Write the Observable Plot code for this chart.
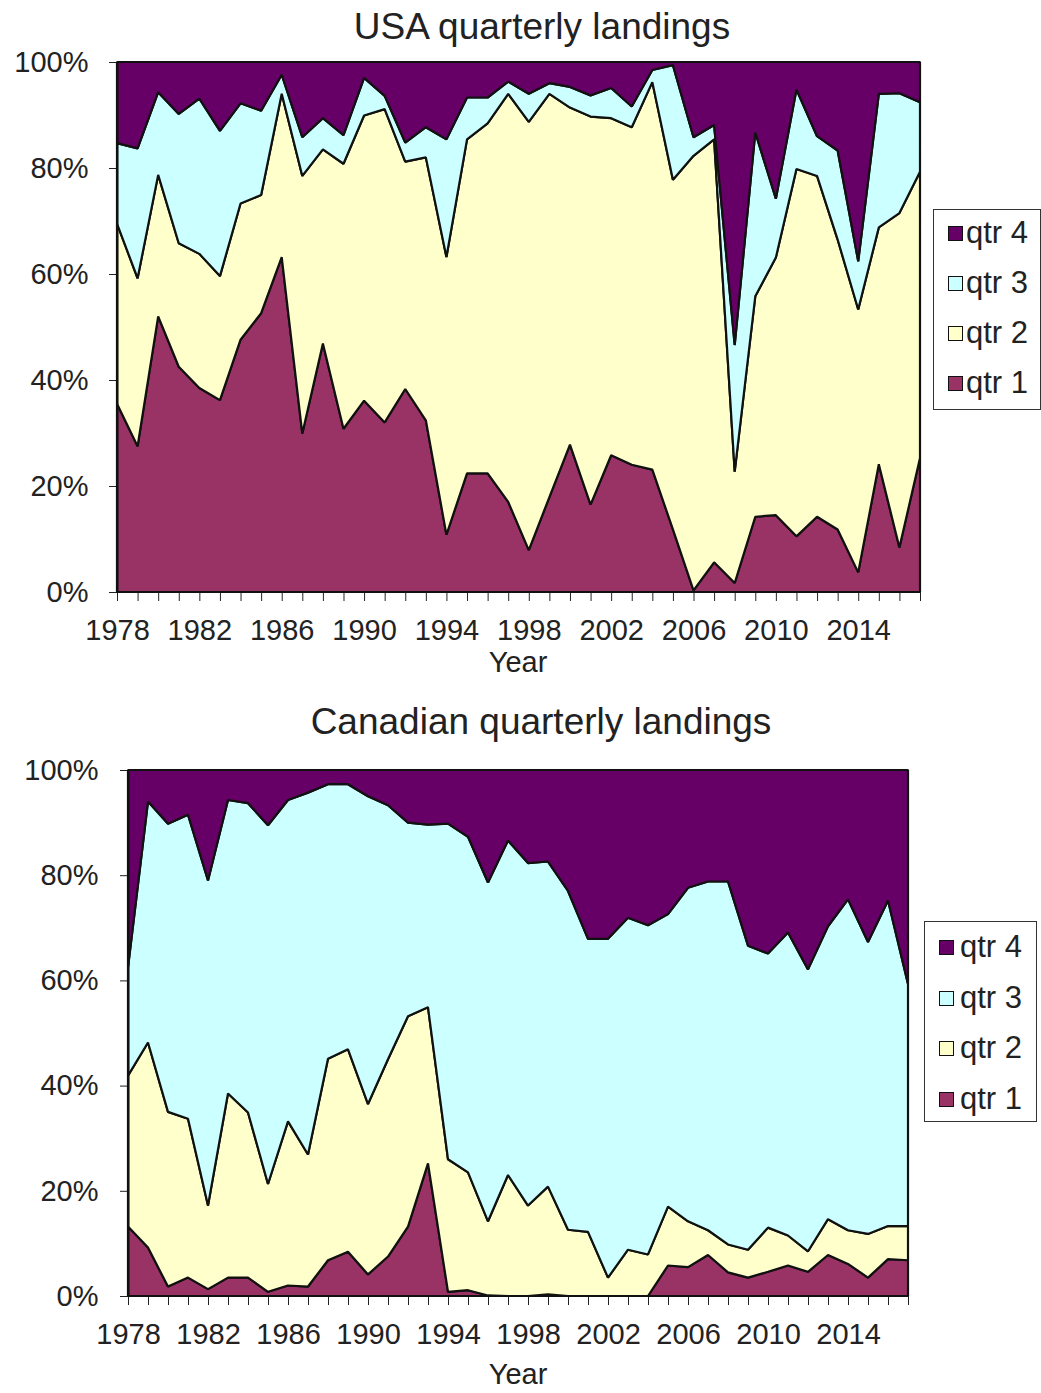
<!DOCTYPE html>
<html><head><meta charset="utf-8">
<script src="https://cdn.jsdelivr.net/npm/d3@7"></script>
<script src="https://cdn.jsdelivr.net/npm/@observablehq/plot@0.6"></script>
<style>
body{margin:0;background:#fff;font-family:"Liberation Sans",Arial,sans-serif;color:#222}
#root{position:relative;width:1041px;height:1393px;overflow:hidden;background:#fff}
.abs{position:absolute;white-space:nowrap}
.title{font-size:37px;transform:translate(-50%,-50%)}
.xlab{font-size:29px;transform:translate(-50%,-50%)}
.legend{border:1.5px solid #333;box-sizing:border-box;background:#fff}
.sw{width:15px;height:15px;border:1.5px solid #111;box-sizing:border-box}
.lt{font-size:31px;transform:translateY(-50%)}
</style></head><body><div id="root"></div><script>
const years = d3.range(1978, 2018);
const quarters = ["qtr 1", "qtr 2", "qtr 3", "qtr 4"];
const colors = ["#993366", "#FFFFCC", "#CCFFFF", "#660066"];
const tickYears = [1978, 1982, 1986, 1990, 1994, 1998, 2002, 2006, 2010, 2014];

// USA quarterly share of landings (%)
const usaQ1 = [35.5,27.5,52.0,42.5,38.5,36.2,47.6,52.6,63.2,29.9,46.9,30.8,36.1,32.0,38.3,32.4,10.8,22.4,22.4,17.0,7.9,17.9,27.8,16.5,25.8,24.0,23.1,11.8,0.3,5.6,1.7,14.2,14.5,10.5,14.2,11.8,3.7,24.1,8.4,25.3];
const usaQ2 = [34.0,31.7,26.7,23.3,25.3,23.4,25.7,22.3,30.8,48.6,36.6,50.0,53.8,59.1,42.9,49.6,52.4,63.0,66.0,77.0,80.8,76.1,63.6,73.2,63.6,63.7,73.1,66.0,82.0,79.8,21.0,41.6,48.6,69.3,64.3,54.7,49.6,44.7,63.1,54.0];
const usaQ3 = [15.2,24.5,15.6,24.4,29.3,27.4,18.9,15.9,3.6,7.3,5.9,5.4,7.1,2.5,3.6,5.7,22.2,7.9,4.9,2.3,5.3,2.0,3.9,4.0,5.7,3.9,2.3,21.6,3.5,2.7,23.9,30.9,11.1,15.0,7.5,16.8,9.1,25.2,22.6,13.1];
const usaQ4 = [15.3,16.3,5.7,9.8,6.9,13.0,7.8,9.2,2.4,14.2,10.6,13.8,3.0,6.4,15.2,12.3,14.6,6.7,6.7,3.7,6.0,4.0,4.7,6.3,4.9,8.4,1.5,0.6,14.2,11.9,53.4,13.3,25.8,5.2,14.0,16.7,37.6,6.0,5.9,7.6];

// Canadian quarterly share of landings (%)
const canQ1 = [13.2,9.2,1.8,3.5,1.3,3.5,3.5,0.8,2.0,1.8,6.8,8.4,4.1,7.5,13.2,25.2,0.8,1.1,0.1,0.0,0.0,0.3,0.0,0.0,0.0,0.0,0.0,5.8,5.5,7.8,4.5,3.5,4.6,5.8,4.6,7.8,6.1,3.5,7.0,6.8];
const canQ2 = [28.7,39.0,33.2,30.2,15.9,35.0,31.4,20.5,31.2,25.1,38.3,38.5,32.4,37.5,40.0,29.7,25.2,22.4,14.1,23.0,17.2,20.5,12.6,12.2,3.5,8.8,7.9,11.2,8.7,4.7,5.3,5.3,8.4,5.7,3.9,6.8,6.4,8.3,6.3,6.5];
const canQ3 = [20.6,45.8,54.8,57.8,61.8,55.8,58.8,68.2,61.1,68.8,52.2,50.4,58.5,48.3,36.8,34.7,63.8,63.8,64.4,63.6,65.1,61.8,64.4,55.7,64.4,63.1,62.6,55.6,63.4,66.3,69.0,57.8,52.1,57.6,53.6,55.7,62.9,55.5,61.9,46.0];
const canQ4 = [37.5,6.0,10.2,8.5,21.0,5.7,6.3,10.5,5.7,4.3,2.7,2.7,5.0,6.7,10.0,10.4,10.2,12.7,21.4,13.4,17.7,17.4,23.0,32.1,32.1,28.1,29.5,27.4,22.4,21.2,21.2,33.4,34.9,30.9,37.9,29.7,24.6,32.7,24.8,40.7];

const root = document.getElementById("root");

function addText(cls, text, x, y) {
  const d = document.createElement("div");
  d.className = "abs " + cls;
  d.textContent = text;
  d.style.left = x + "px";
  d.style.top = y + "px";
  root.appendChild(d);
  return d;
}

function chart(series, o) {
  const data = [];
  quarters.forEach((q, i) => years.forEach((yr, j) => data.push({year: yr, quarter: q, share: series[i][j]})));
  const svg = Plot.plot({
    width: o.width, height: o.height,
    marginLeft: o.ml, marginRight: o.mr, marginTop: o.mt, marginBottom: o.mb,
    style: {fontFamily: "Liberation Sans, Arial, sans-serif", fontSize: "29px", color: "#222", background: "transparent", overflow: "visible"},
    x: {domain: [1978, 2017], ticks: years, tickSize: 9, tickPadding: 18,
        tickFormat: d => tickYears.includes(d) ? String(d) : "", label: null},
    y: {domain: [0, 100], ticks: [0, 20, 40, 60, 80, 100], tickSize: 8, tickPadding: o.yp,
        tickFormat: d => d + "%", label: null},
    color: {domain: quarters, range: colors},
    marks: [
      Plot.areaY(data, {x: "year", y: "share", fill: "quarter", order: quarters,
        stroke: "#111", strokeWidth: 2.2, strokeLinejoin: "miter"}),
      Plot.ruleX([1978], {stroke: "#111", strokeWidth: 2})
    ]
  });
  svg.style.position = "absolute";
  svg.style.left = "0px";
  svg.style.top = o.top + "px";
  root.appendChild(svg);
}

function legend(x, y, w, h, rows, swx, tx) {
  const box = document.createElement("div");
  box.className = "abs legend";
  Object.assign(box.style, {left: x + "px", top: y + "px", width: w + "px", height: h + "px"});
  root.appendChild(box);
  const order = ["qtr 4", "qtr 3", "qtr 2", "qtr 1"];
  order.forEach((q, i) => {
    const sw = document.createElement("div");
    sw.className = "abs sw";
    sw.style.left = swx + "px";
    sw.style.top = (rows[i] - 7.5) + "px";
    sw.style.background = colors[quarters.indexOf(q)];
    root.appendChild(sw);
    addText("lt", q, tx, rows[i]);
  });
}

addText("title", "USA quarterly landings", 542, 27);
chart([usaQ1, usaQ2, usaQ3, usaQ4], {top: 50, width: 930, height: 632, ml: 117, mr: 10, mt: 12, mb: 90, yp: 21});
addText("xlab", "Year", 518, 662);
legend(933, 209, 108, 201, [233, 283, 333, 383], 948, 966);

addText("title", "Canadian quarterly landings", 541, 722);
chart([canQ1, canQ2, canQ3, canQ4], {top: 760, width: 920, height: 626, ml: 128, mr: 12, mt: 10, mb: 90, yp: 22});
addText("xlab", "Year", 518, 1374);
legend(924, 921, 113, 201, [947, 998, 1048, 1099], 939, 960);
</script></body></html>
